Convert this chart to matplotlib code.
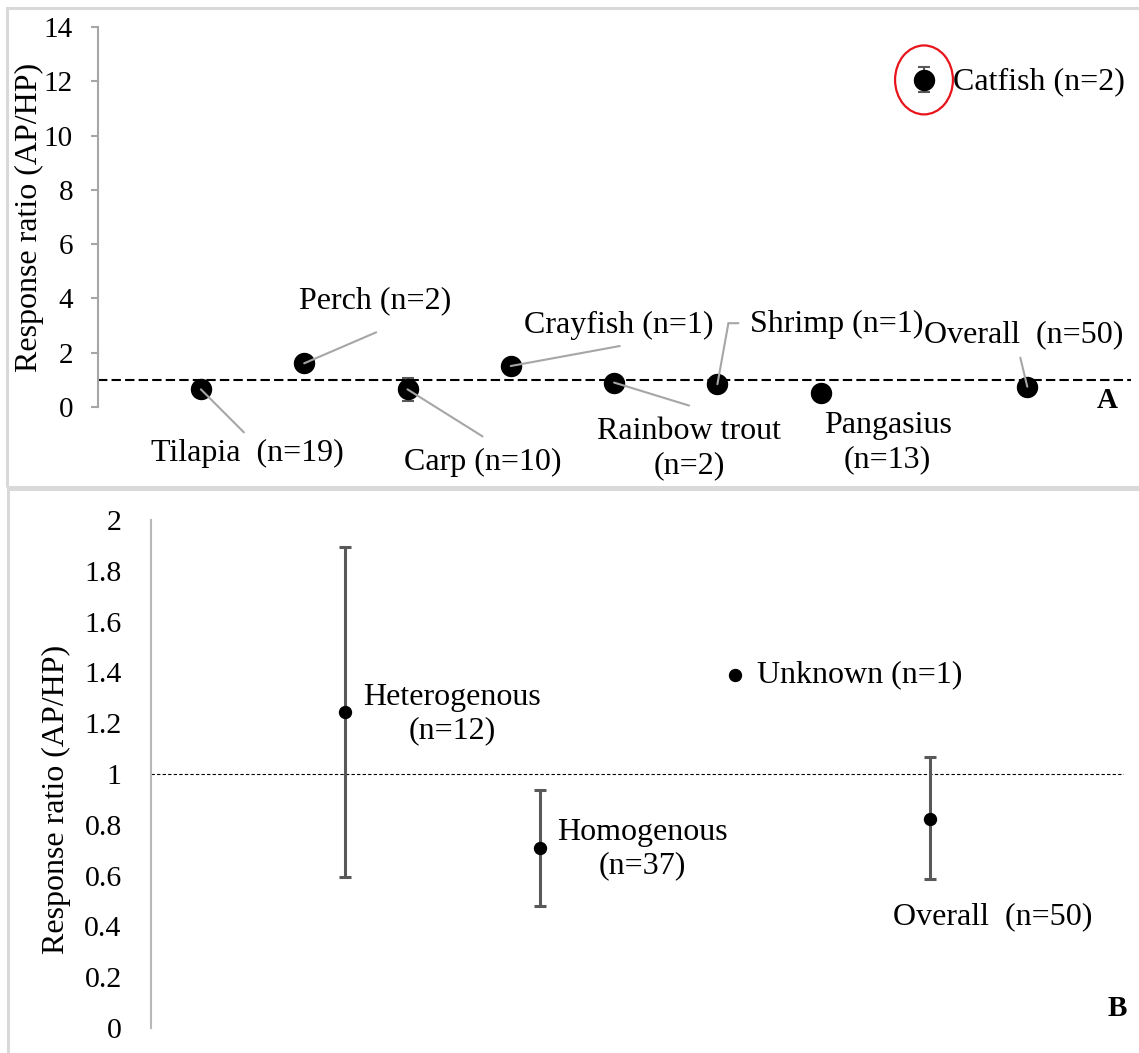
import matplotlib
matplotlib.use("Agg")
import matplotlib.pyplot as plt
import matplotlib.transforms as transforms
from matplotlib.patches import Ellipse, Rectangle

plt.rcParams["font.family"] = ["Liberation Serif", "DejaVu Serif"]

# ── Data ─────────────────────────────────────────────────────────────────────

# Panel A: response ratio (AP/HP) by species
species = ["Tilapia  (n=19)", "Perch (n=2)", "Carp (n=10)", "Crayfish (n=1)",
           "Rainbow trout\n(n=2)", "Shrimp (n=1)", "Pangasius\n(n=13)",
           "Catfish (n=2)", "Overall  (n=50)"]
species_ratio = [0.65, 1.61, 0.65, 1.51, 0.90, 0.84, 0.53, 12.05, 0.75]
species_err = [0, 0, 0.43, 0, 0, 0, 0, 0.46, 0]
a_ticks = [0, 2, 4, 6, 8, 10, 12, 14]

# Panel B: response ratio (AP/HP) by feed type
groups = ["Heterogenous\n(n=12)", "Homogenous\n(n=37)", "Unknown (n=1)", "Overall  (n=50)"]
group_ratio = [1.245, 0.707, 1.39, 0.823]
group_lower = [0.596, 0.48, 1.39, 0.585]
group_upper = [1.895, 0.937, 1.39, 1.068]
b_ticks = [0, 0.2, 0.4, 0.6, 0.8, 1, 1.2, 1.4, 1.6, 1.8, 2]

# ── Layout helpers (pixel offsets from each point, y up) ─────────────────────

W, H, DPI = 1139, 1053, 100
PT = 72 / DPI
GRAY_LINE = "#a6a6a6"
ERR = "#595959"

# text offset, alignment, leader polyline (offsets)
a_labels = [
    ((46, -64), "center", [(43, -43)]),
    ((71, 63), "center", [(72, 31)]),
    ((75, -73), "center", [(75, -47)]),
    ((108, 41), "center", [(109, 20)]),
    ((75, -66), "center", [(75, -23)]),
    ((33, 60), "left", [(11, 61), (21, 61)]),
    ((67, -50), "center", []),
    ((29, -2), "left", []),
    ((-4, 52), "center", [(-7, 29)]),
]
b_labels = [
    ((107, -2), "center"),
    ((102, -1), "center"),
    ((22, 0), "left"),
    ((63, -98), "center"),
]


def leader(ax, x, y, pts):
    pts = [(0, 0)] + pts
    for (x0, y0), (x1, y1) in zip(pts[:-1], pts[1:]):
        start = transforms.offset_copy(ax.transData, fig=ax.figure,
                                       x=x0 * PT, y=y0 * PT, units="points")
        ax.annotate("", xy=(x, y), xycoords=start,
                    xytext=((x1 - x0) * PT, (y1 - y0) * PT), textcoords="offset points",
                    arrowprops=dict(arrowstyle="-", color=GRAY_LINE, lw=1.5,
                                    shrinkA=0, shrinkB=0),
                    annotation_clip=False, zorder=5)


fig = plt.figure(figsize=(W / DPI, H / DPI), dpi=DPI)

# panel frames
for x0, y0, x1, y1 in [(7, 8, 1150, 487), (8, 489, 1150, 1060)]:
    fig.add_artist(Rectangle((x0 / W, 1 - y1 / H), (x1 - x0) / W, (y1 - y0) / H,
                             transform=fig.transFigure, fill=False,
                             ec="#d9d9d9", lw=2.2))

# ── Panel A ──────────────────────────────────────────────────────────────────
ax_a = fig.add_axes([97.6 / W, 1 - 407 / H, 1033 / W, 380 / H])
x_a = list(range(1, len(species) + 1))
ax_a.axhline(1, color="black", lw=1.5, ls=(0, (4.5, 2)), zorder=1)
ax_a.errorbar(x_a, species_ratio, yerr=species_err, fmt="o", color="black",
              ms=14.4, ecolor=ERR, elinewidth=1.5, capsize=4, capthick=1.5, zorder=3)
ax_a.set_xlim(0, 10)
ax_a.set_ylim(0, 14)
ax_a.set_yticks(a_ticks)
ax_a.set_xticks([])
for s in ("top", "right", "bottom"):
    ax_a.spines[s].set_visible(False)
ax_a.spines["left"].set_color(GRAY_LINE)
ax_a.spines["left"].set_linewidth(1.5)
ax_a.tick_params(axis="y", length=5, width=1.5, color=GRAY_LINE, pad=12.7, labelsize=21)
ax_a.set_ylabel("Response ratio (AP/HP)", fontsize=23, va="center")
ax_a.yaxis.set_label_coords(-0.066, 0.5)

for xi, val, name, ((tx, ty), ha, line) in zip(x_a, species_ratio, species, a_labels):
    ax_a.annotate(name, xy=(xi, val), xytext=(tx * PT, ty * PT), textcoords="offset points",
                  ha=ha, va="center", fontsize=23, annotation_clip=False,
                  multialignment="center")
    if line:
        leader(ax_a, xi, val, line)

cat = species.index("Catfish (n=2)")
ax_a.add_patch(Ellipse((x_a[cat], species_ratio[cat]), width=0.56, height=2.54,
                       fill=False, ec="#e8141b", lw=1.6, zorder=6, clip_on=False))

# ── Panel B ──────────────────────────────────────────────────────────────────
ax_b = fig.add_axes([150.7 / W, 1 - 1028 / H, 973.5 / W, 508 / H])
x_b = list(range(1, len(groups) + 1))
ax_b.axhline(1, color="black", lw=0.8, ls=(0, (3, 2)), zorder=1)
with_err = [i for i in range(len(groups)) if group_upper[i] > group_lower[i]]
ax_b.errorbar([x_b[i] for i in with_err], [group_ratio[i] for i in with_err],
              yerr=[[group_ratio[i] - group_lower[i] for i in with_err],
                    [group_upper[i] - group_ratio[i] for i in with_err]],
              fmt="none", ecolor=ERR, elinewidth=2.2, capsize=4.3, capthick=2.2, zorder=2)
ax_b.plot(x_b, group_ratio, "o", color="black", ms=8.6, zorder=3)
ax_b.set_xlim(0, 5)
ax_b.set_ylim(0, 2)
ax_b.set_yticks(b_ticks)
ax_b.set_yticklabels([f"{v:g}" for v in b_ticks])
ax_b.set_xticks([])
for s in ("top", "right", "bottom"):
    ax_b.spines[s].set_visible(False)
ax_b.spines["left"].set_color("#b8b8b8")
ax_b.spines["left"].set_linewidth(1.5)
ax_b.tick_params(axis="y", length=0, pad=20.9, labelsize=21.5)
ax_b.set_ylabel("Response ratio (AP/HP)", fontsize=23, va="center")
ax_b.yaxis.set_label_coords(-0.0963, 0.449)

for xi, val, name, ((tx, ty), ha) in zip(x_b, group_ratio, groups, b_labels):
    ax_b.annotate(name, xy=(xi, val), xytext=(tx * PT, ty * PT), textcoords="offset points",
                  ha=ha, va="center", fontsize=23, annotation_clip=False,
                  multialignment="center")

fig.text(1107 / W, 1 - 400 / H, "A", fontsize=21, fontweight="bold", ha="center", va="center")
fig.text(1117 / W, 1 - 1009 / H, "B", fontsize=21, fontweight="bold", ha="center", va="center")

fig.savefig("out.png", dpi=DPI)
